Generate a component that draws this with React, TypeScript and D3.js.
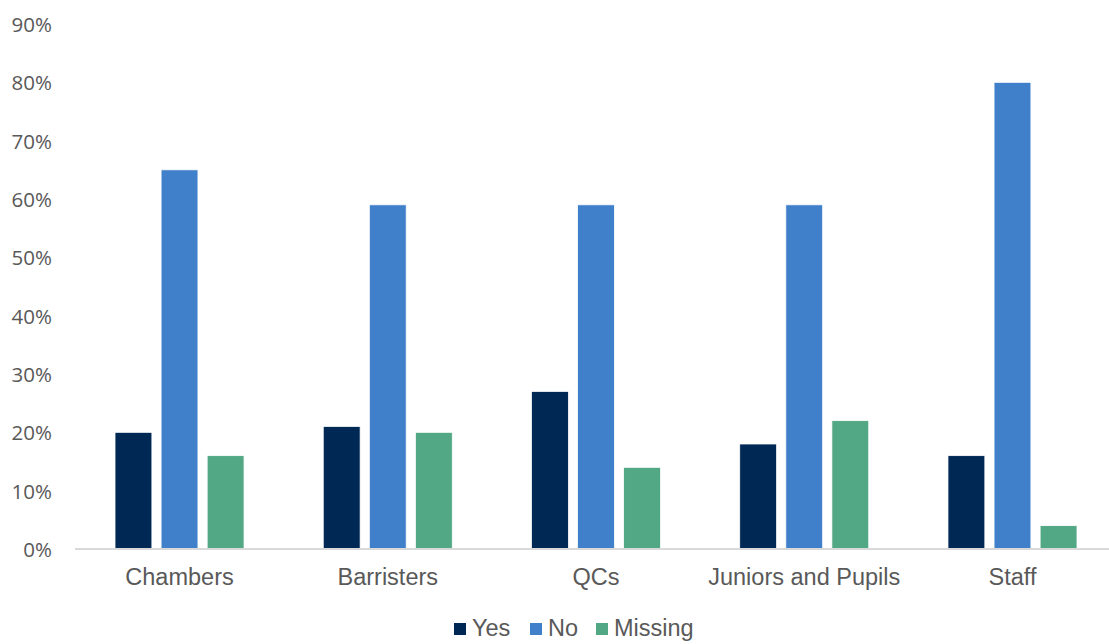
import React from "react";
import * as d3 from "d3";

const categories = ["Chambers", "Barristers", "QCs", "Juniors and Pupils", "Staff"];
const seriesNames = ["Yes", "No", "Missing"];
const yesValues = [20, 21, 27, 18, 16];
const noValues = [65, 59, 59, 59, 80];
const missingValues = [16, 20, 14, 22, 4];
const yTicks = [0, 10, 20, 30, 40, 50, 60, 70, 80, 90];
const colors = ["#002855", "#4080CA", "#52A784"];

const W = 1109;
const H = 644;

export default function App() {
  const seriesValues = [yesValues, noValues, missingValues];
  const x0 = d3.scaleBand<string>().domain(categories).range([75.4, 1116.6]).padding(0);
  const x1 = d3
    .scaleBand<string>()
    .domain(seriesNames)
    .range([0, x0.bandwidth()])
    .paddingInner(0.2)
    .paddingOuter(0.86);
  const y = d3.scaleLinear().domain([0, 90]).range([549, 24]);

  const legendItems = [
    { name: "Yes", sx: 454, tx: 472 },
    { name: "No", sx: 530, tx: 548 },
    { name: "Missing", sx: 596, tx: 614 },
  ];

  return (
    <svg width={W} height={H} style={{ position: "absolute", left: 0, top: 0, background: "#fff" }}>
      {yTicks.map((t) => (
        <text
          key={t}
          x={52}
          y={y(t)}
          textAnchor="end"
          dominantBaseline="central"
          fontFamily="'Open Sans', sans-serif"
          fontSize={20.5}
          fill="#595959"
        >
          {t}%
        </text>
      ))}
      {categories.map((c, ci) => (
        <g key={c} transform={`translate(${x0(c)},0)`}>
          {seriesNames.map((s, si) => {
            const v = seriesValues[si][ci];
            return (
              <rect
                key={s}
                x={x1(s)}
                y={y(v)}
                width={x1.bandwidth()}
                height={y(0) - y(v)}
                fill={colors[si]}
                stroke="#ffffff"
                strokeWidth={0.75}
              />
            );
          })}
          <text
            x={x0.bandwidth() / 2}
            y={585}
            textAnchor="middle"
            fontFamily="'Liberation Sans', Arial, sans-serif"
            fontSize={23.5}
            fill="#595959"
          >
            {c}
          </text>
        </g>
      ))}
      <line x1={75} x2={1109} y1={y(0)} y2={y(0)} stroke="#d9d9d9" strokeWidth={2} />
      {legendItems.map((l, i) => (
        <g key={l.name}>
          <rect x={l.sx} y={623} width={12} height={12} fill={colors[i]} />
          <text
            x={l.tx}
            y={636}
            fontFamily="'Liberation Sans', Arial, sans-serif"
            fontSize={23.5}
            fill="#595959"
          >
            {l.name}
          </text>
        </g>
      ))}
    </svg>
  );
}
